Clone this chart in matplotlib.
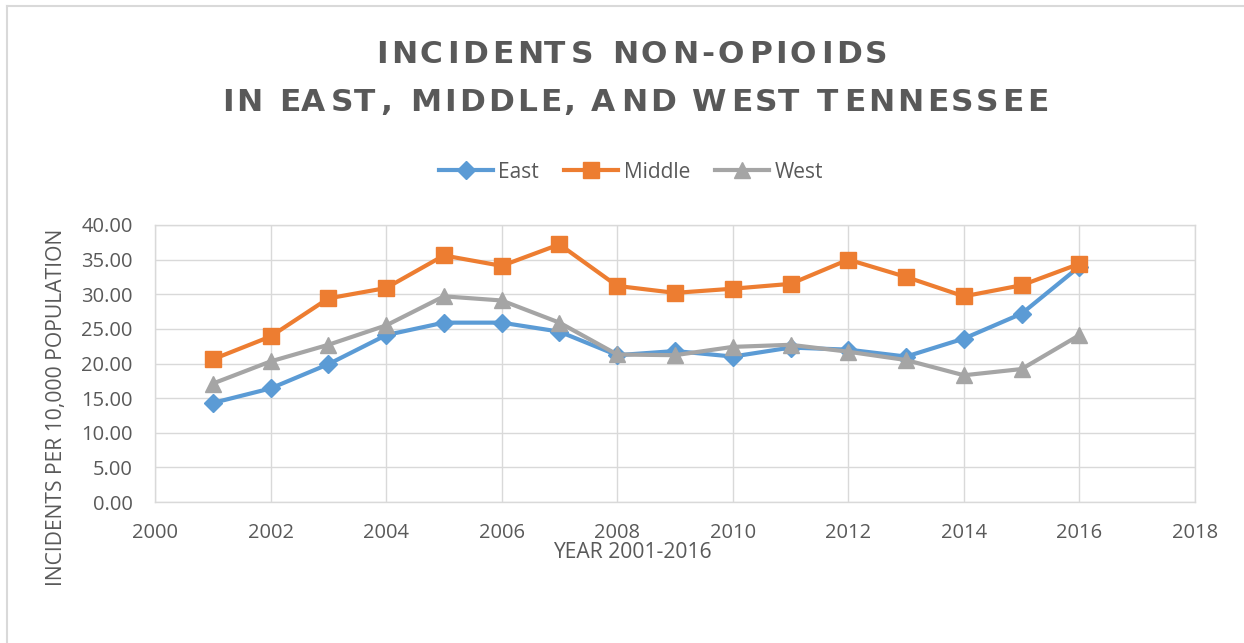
import matplotlib
matplotlib.use("Agg")
import matplotlib.pyplot as plt
from matplotlib.lines import Line2D
from matplotlib.font_manager import FontProperties, findfont
from matplotlib.ft2font import FT2Font

years = [2001, 2002, 2003, 2004, 2005, 2006, 2007, 2008, 2009, 2010, 2011, 2012, 2013, 2014, 2015, 2016]
east = [14.3, 16.4, 19.9, 24.1, 25.9, 25.9, 24.6, 21.2, 21.8, 21.0, 22.3, 22.0, 21.0, 23.6, 27.2, 34.0]
middle = [20.6, 23.9, 29.4, 30.9, 35.6, 34.1, 37.2, 31.2, 30.2, 30.8, 31.5, 35.0, 32.5, 29.7, 31.3, 34.4]
west = [17.1, 20.3, 22.7, 25.5, 29.7, 29.1, 25.9, 21.3, 21.2, 22.4, 22.7, 21.7, 20.5, 18.3, 19.2, 24.1]
x_ticks = [2000, 2002, 2004, 2006, 2008, 2010, 2012, 2014, 2016, 2018]
y_ticks = [0, 5, 10, 15, 20, 25, 30, 35, 40]
title_lines = ["INCIDENTS NON-OPIOIDS", "IN EAST, MIDDLE, AND WEST TENNESSEE"]

TXT = "#595959"
GRID = "#D9D9D9"
C_E, C_M, C_W = "#5B9BD5", "#ED7D31", "#A5A5A5"
FONT = ["Open Sans", "DejaVu Sans"]
W, H, DPI = 1244, 643, 100

fig = plt.figure(figsize=(W / DPI, H / DPI), dpi=DPI)
ax = fig.add_axes([155/W, 1-502/H, (1195-155)/W, (502-225)/H])

lw = 3.0
ax.plot(years, east, color=C_E, lw=lw, marker="D", ms=9, label="East", zorder=3)
ax.plot(years, middle, color=C_M, lw=lw, marker="s", ms=12, label="Middle", zorder=3)
ax.plot(years, west, color=C_W, lw=lw, marker="^", ms=12, label="West", zorder=3)

ax.set_xlim(2000, 2018)
ax.set_ylim(0, 40)
ax.set_xticks(x_ticks)
ax.set_yticks(y_ticks)
ax.set_yticklabels([f"{v:.2f}" for v in y_ticks])
ax.grid(True, color=GRID, lw=1.0)
ax.set_axisbelow(True)
for s in ax.spines.values():
    s.set_color(GRID)
    s.set_linewidth(1.0)
ax.tick_params(length=0, colors=TXT, labelsize=14.5)
ax.tick_params(axis="x", pad=15)
ax.tick_params(axis="y", pad=16)
for lab in ax.get_xticklabels() + ax.get_yticklabels():
    lab.set_family(FONT)

fig.text(632/W, 1-552/H, "YEAR 2001-2016", ha="center", va="center",
         color=TXT, fontsize=15.2, family=FONT)
fig.text(57/W, 1-407/H, "INCIDENTS PER 10,000 POPULATION", ha="center", va="center",
         rotation=90, color=TXT, fontsize=15.2, family=FONT)


def spaced_text(s, cx_px, base_px, size, tracking_px):
    fp = FontProperties(family="DejaVu Sans", weight="bold", size=size)
    ft = FT2Font(findfont(fp))
    ft.set_size(size, DPI)
    advs = []
    for ch in s:
        g = ft.load_char(ord(ch))
        advs.append(g.linearHoriAdvance / 65536)
    total = sum(advs) + tracking_px * (len(s) - 1)
    x = cx_px - total / 2
    for ch, a in zip(s, advs):
        if ch != " ":
            g = ft.load_char(ord(ch))
            bx = g.horiBearingX / 64
            fig.text((x + bx) / W, 1 - base_px / H, ch, ha="left", va="baseline",
                     color=TXT, fontproperties=fp)
        x += a + tracking_px


spaced_text(title_lines[0], 629, 63, 22.5, 3.6)
spaced_text(title_lines[1], 632, 111, 22.5, 3.1)

leg = ax.legend(loc="center", bbox_to_anchor=(631/W, 1-172/H), bbox_transform=fig.transFigure,
                ncol=3, frameon=False, handlelength=2.6, columnspacing=1.2,
                handletextpad=0.25, prop={"family": FONT, "size": 15})
for t in leg.get_texts():
    t.set_color(TXT)

# chart border (left and top edges visible)
fig.add_artist(Line2D([7/W, 7/W], [1-6/H, 0], transform=fig.transFigure, color=GRID, lw=1.5))
fig.add_artist(Line2D([7/W, 1], [1-6/H, 1-6/H], transform=fig.transFigure, color=GRID, lw=1.5))

fig.savefig("out.png", dpi=DPI)
